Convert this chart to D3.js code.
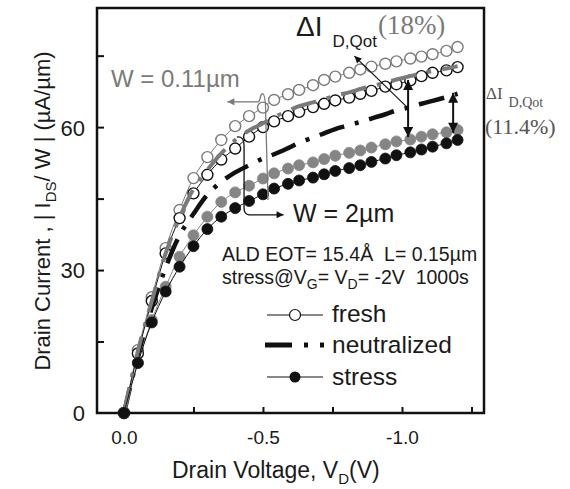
<!DOCTYPE html>
<html>
<head>
<meta charset="utf-8">
<script src="https://cdn.jsdelivr.net/npm/d3@7"></script>
<style>
  body { margin: 0; background: #fff; }
  svg text { font-family: "Liberation Sans", Arial, sans-serif; fill: #1a1a1a; white-space: pre; }
  svg text.serif { font-family: "Liberation Serif", "Times New Roman", serif; }
</style>
</head>
<body>
<svg id="chart" width="570" height="489"></svg>
<script>
'use strict';

// drain voltage grid (V)
var vd = [0, -0.05, -0.10, -0.15, -0.20, -0.25, -0.30, -0.35, -0.40, -0.45, -0.50,
  -0.54, -0.59, -0.63, -0.68, -0.72, -0.76, -0.81, -0.85, -0.89, -0.94, -0.98,
  -1.03, -1.07, -1.11, -1.16, -1.20];

// |Ids|/W (uA/um), W = 0.11um (grey) and W = 2um (black)
var freshNarrow = [0, 13.2, 24.3, 34.6, 42.6, 49.3, 53.7, 57.3, 60.2, 62.3, 64.1,
  65.7, 66.9, 67.8, 68.8, 69.9, 70.6, 71.4, 72.1, 72.7, 73.3, 73.8, 74.4, 74.8, 75.3, 76.0, 76.8];
var freshWide = [0, 12.5, 23.5, 33.5, 40.9, 46.1, 50.0, 53.2, 55.5, 58.0, 60.0,
  61.2, 62.3, 63.2, 64.2, 64.9, 65.6, 66.2, 67.0, 67.6, 68.5, 69.0, 69.8, 70.7, 71.4, 71.9, 72.6];
var neutNarrow = [0, 13.0, 23.5, 33.5, 41.0, 47.0, 51.0, 54.5, 57.3, 59.3, 60.8,
  62.1, 63.4, 64.4, 65.2, 65.9, 66.6, 67.3, 68.0, 68.6, 69.3, 70.0, 70.7, 71.3, 71.8, 72.3, 72.8];
var neutWide = [0, 12.0, 22.0, 30.5, 37.3, 41.8, 45.8, 48.5, 50.5, 52.0, 53.4,
  54.3, 55.6, 56.7, 57.8, 58.7, 59.6, 60.4, 61.1, 61.8, 62.7, 63.5, 64.2, 64.9, 65.5, 66.3, 67.0];
var stressNarrow = [0, 10.5, 19.5, 26.5, 32.8, 37.3, 41.2, 44.3, 46.3, 47.7, 49.2,
  50.3, 51.3, 52.0, 52.6, 53.3, 54.0, 54.6, 55.1, 55.7, 56.4, 57.0, 57.4, 58.0, 58.5, 58.9, 59.4];
var stressWide = [0, 10.5, 19.0, 25.5, 30.7, 35.0, 38.6, 41.2, 43.0, 44.5, 45.9,
  47.1, 48.1, 48.8, 49.4, 50.1, 50.8, 51.4, 52.0, 52.7, 53.4, 54.1, 54.7, 55.3, 55.9, 56.6, 57.3];

// axis ticks
var xTicks = [-0.25, -0.5, -0.75, -1.0, -1.25];
var xTickLabels = [0, -0.5, -1.0];
var yTicks = [15, 30, 45, 60, 75];
var yTickLabels = [0, 30, 60];

var GREY = '#7a7a7a';
var BLACK = '#111';

var svg = d3.select('#chart');
var x = d3.scaleLinear().domain([0.097, -1.295]).range([97, 484]);
var y = d3.scaleLinear().domain([0, 85]).range([413, 8]);

/*
 * arrow heads
 */
var defs = svg.append('defs');
function addMarker(id, color, len, wid) {
  defs.append('marker')
    .attr('id', id)
    .attr('markerUnits', 'userSpaceOnUse')
    .attr('viewBox', '0 0 10 10')
    .attr('refX', 10).attr('refY', 5)
    .attr('markerWidth', len).attr('markerHeight', wid)
    .attr('orient', 'auto-start-reverse')
    .append('path')
    .attr('d', 'M0,0 L10,5 L0,10 Z')
    .attr('fill', color);
}
addMarker('headGrey', GREY, 9, 7);
addMarker('headBlack', BLACK, 9, 7);
addMarker('headBig', BLACK, 11, 10);

/*
 * axes (ticks inside)
 */
svg.append('g')
  .attr('transform', 'translate(0,413)')
  .call(d3.axisBottom(x).tickValues(xTicks).tickSize(-6).tickFormat(''))
  .call(function(g) { g.select('.domain').remove(); g.selectAll('line').attr('stroke', BLACK).attr('stroke-width', 2); });

svg.append('g')
  .attr('transform', 'translate(0,413)')
  .call(d3.axisBottom(x).tickValues(xTickLabels).tickSize(0).tickPadding(18)
    .tickFormat(function(d) { return d.toFixed(1); }))
  .call(function(g) {
    g.select('.domain').remove();
    g.selectAll('text').attr('font-size', 19).attr('fill', '#1a1a1a')
      .attr('font-family', '"Liberation Sans", Arial, sans-serif');
  });

svg.append('g')
  .attr('transform', 'translate(97,0)')
  .call(d3.axisLeft(y).tickValues(yTicks).tickSize(-7).tickFormat(''))
  .call(function(g) { g.select('.domain').remove(); g.selectAll('line').attr('stroke', BLACK).attr('stroke-width', 2); });

svg.append('g')
  .attr('transform', 'translate(97,0)')
  .call(d3.axisLeft(y).tickValues(yTickLabels).tickSize(0).tickPadding(12))
  .call(function(g) {
    g.select('.domain').remove();
    g.selectAll('text').attr('font-size', 22).attr('fill', '#1a1a1a').attr('dy', '0.36em')
      .attr('font-family', '"Liberation Sans", Arial, sans-serif');
  });

/*
 * data
 */
var line = d3.line()
  .x(function(d, i) { return x(vd[i]); })
  .y(function(d) { return y(d); })
  .curve(d3.curveCatmullRom);

function drawMarkers(vals, color, filled) {
  var g = svg.append('g');
  g.append('path')
    .attr('d', line(vals))
    .attr('fill', 'none')
    .attr('stroke', color)
    .attr('stroke-width', 1);
  g.selectAll('circle')
    .data(vals)
    .enter().append('circle')
    .attr('cx', function(d, i) { return x(vd[i]); })
    .attr('cy', function(d) { return y(d); })
    .attr('r', 5.5)
    .attr('fill', filled ? color : '#fff')
    .attr('stroke', color)
    .attr('stroke-width', filled ? 0.8 : 1.4);
}

function drawDashDot(vals, color, width) {
  svg.append('path')
    .attr('d', line(vals))
    .attr('fill', 'none')
    .attr('stroke', color)
    .attr('stroke-width', width)
    .attr('stroke-dasharray', '26,11,4,11');
}

drawMarkers(freshNarrow, GREY, false);
drawMarkers(freshWide, BLACK, false);
drawDashDot(neutWide, BLACK, 4.5);
drawDashDot(neutNarrow, GREY, 4);
drawMarkers(stressNarrow, '#858585', true);
drawMarkers(stressWide, BLACK, true);

/*
 * annotations
 */
// W = 0.11um bracket with arrow to the left
svg.append('path')
  .attr('d', 'M' + x(-0.482) + ',' + y(65.3) +
    ' C' + x(-0.492) + ',' + y(65.3) + ' ' + x(-0.488) + ',' + y(67.0) + ' ' + x(-0.498) + ',' + y(67.0) +
    ' C' + x(-0.508) + ',' + y(67.0) + ' ' + x(-0.510) + ',' + y(65.0) + ' ' + x(-0.510) + ',' + y(62.0) +
    ' L' + x(-0.518) + ',' + y(44.7))
  .attr('fill', 'none').attr('stroke', GREY).attr('stroke-width', 1.3);
svg.append('line')
  .attr('x1', x(-0.482)).attr('y1', y(65.3)).attr('x2', x(-0.372)).attr('y2', y(65.3))
  .attr('stroke', GREY).attr('stroke-width', 1.3).attr('marker-end', 'url(#headGrey)');

// W = 2um bracket with arrow to the right
svg.append('path')
  .attr('d', 'M' + x(-0.406) + ',' + y(57.9) +
    ' Q' + x(-0.432) + ',' + y(58.2) + ' ' + x(-0.432) + ',' + y(56.0) +
    ' L' + x(-0.432) + ',' + y(43.0) +
    ' Q' + x(-0.432) + ',' + y(41.6) + ' ' + x(-0.450) + ',' + y(41.6) +
    ' L' + x(-0.574) + ',' + y(41.6))
  .attr('fill', 'none').attr('stroke', BLACK).attr('stroke-width', 1.3)
  .attr('marker-end', 'url(#headBlack)');

// delta I arrows
svg.append('line')
  .attr('x1', x(-1.018)).attr('y1', y(64.2)).attr('x2', x(-0.829)).attr('y2', y(74.9))
  .attr('stroke', BLACK).attr('stroke-width', 1.2).attr('marker-end', 'url(#headBlack)');
svg.append('line')
  .attr('x1', x(-1.022)).attr('y1', y(69.9)).attr('x2', x(-1.022)).attr('y2', y(57.9))
  .attr('stroke', BLACK).attr('stroke-width', 2)
  .attr('marker-start', 'url(#headBig)').attr('marker-end', 'url(#headBig)');
svg.append('line')
  .attr('x1', x(-1.184)).attr('y1', y(67.2)).attr('x2', x(-1.184)).attr('y2', y(58.8))
  .attr('stroke', BLACK).attr('stroke-width', 2)
  .attr('marker-start', 'url(#headBig)').attr('marker-end', 'url(#headBig)');

// frame
svg.append('rect')
  .attr('x', 97).attr('y', 8).attr('width', 387).attr('height', 405)
  .attr('fill', 'none').attr('stroke', BLACK).attr('stroke-width', 2.5);

/*
 * texts
 */
svg.append('text').attr('x', 111).attr('y', 87).attr('font-size', 24).style('fill', GREY)
  .text('W = 0.11\u00b5m');
svg.append('text').attr('x', 293).attr('y', 222).attr('font-size', 25)
  .text('W = 2\u00b5m');

var dq = svg.append('text').attr('x', 296).attr('y', 36);
dq.append('tspan').attr('font-size', 28).text('\u0394I');
dq.append('tspan').attr('font-size', 17).attr('dy', 11).attr('dx', 10).text('D,Qot');
dq.append('tspan').attr('class', 'serif').attr('font-size', 27).attr('dy', -13).attr('dx', 1)
  .style('fill', GREY).style('font-family', '"Liberation Serif", serif').text('(18%)');

var dq2 = svg.append('text').attr('class', 'serif').attr('x', 486).attr('y', 99).style('fill', '#555');
dq2.append('tspan').attr('font-size', 17).text('\u0394I');
dq2.append('tspan').attr('font-size', 14).attr('dx', 6).attr('dy', 8).text('D,Qot');
svg.append('text').attr('class', 'serif').attr('x', 485).attr('y', 134).attr('font-size', 22)
  .style('fill', '#555').text('(11.4%)');

svg.append('text').attr('x', 222).attr('y', 261).attr('font-size', 19.5)
  .text('ALD EOT= 15.4\u00c5  L= 0.15\u00b5m');
var st = svg.append('text').attr('x', 222).attr('y', 284).attr('font-size', 19.5);
st.append('tspan').text('stress@V');
st.append('tspan').attr('font-size', 14).attr('dy', 5).text('G');
st.append('tspan').attr('dy', -5).text('= V');
st.append('tspan').attr('font-size', 14).attr('dy', 5).text('D');
st.append('tspan').attr('dy', -5).text('= -2V  1000s');

// legend
var legend = svg.append('g');
legend.append('line').attr('x1', 267).attr('x2', 323).attr('y1', 315).attr('y2', 315)
  .attr('stroke', BLACK).attr('stroke-width', 1);
legend.append('circle').attr('cx', 295).attr('cy', 315).attr('r', 5.5)
  .attr('fill', '#fff').attr('stroke', BLACK).attr('stroke-width', 1.2);
legend.append('line').attr('x1', 265).attr('x2', 328).attr('y1', 345).attr('y2', 345)
  .attr('stroke', BLACK).attr('stroke-width', 5).attr('stroke-dasharray', '27,12,4,12,4,100');
legend.append('line').attr('x1', 267).attr('x2', 323).attr('y1', 377).attr('y2', 377)
  .attr('stroke', BLACK).attr('stroke-width', 1);
legend.append('circle').attr('cx', 295).attr('cy', 377).attr('r', 5.5).attr('fill', BLACK);
legend.append('text').attr('x', 332).attr('y', 322).attr('font-size', 24.5).text('fresh');
legend.append('text').attr('x', 332).attr('y', 353).attr('font-size', 24.5).text('neutralized');
legend.append('text').attr('x', 332).attr('y', 385).attr('font-size', 24.5).text('stress');

// axis titles
var xt = svg.append('text').attr('x', 172).attr('y', 478).attr('font-size', 23);
xt.append('tspan').text('Drain Voltage, V');
xt.append('tspan').attr('font-size', 15).attr('dy', 6).text('D');
xt.append('tspan').attr('dy', -6).text('(V)');

var yt = svg.append('text').attr('transform', 'translate(50,211) rotate(-90)')
  .attr('text-anchor', 'middle').attr('font-size', 22);
yt.append('tspan').text('Drain Current , | I');
yt.append('tspan').attr('font-size', 15).attr('dy', 6).text('DS');
yt.append('tspan').attr('dy', -6).text('/ W | (\u00b5A/\u00b5m)');
</script>
</body>
</html>
